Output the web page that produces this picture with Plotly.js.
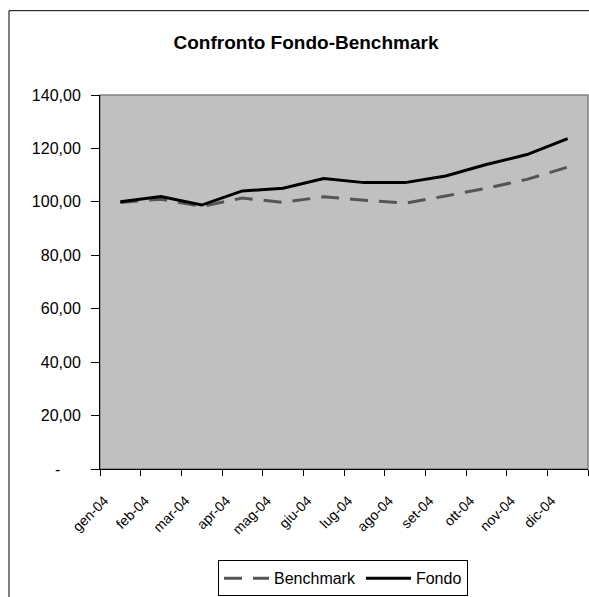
<!DOCTYPE html>
<html>
<head>
<meta charset="utf-8">
<script src="https://cdn.plot.ly/plotly-3.0.1.min.js"></script>
<style>html,body{margin:0;padding:0;background:#fff;}#chart{width:589px;height:597px;}</style>
</head>
<body>
<div id="chart"></div>
<script>
const months = ["gen-04","feb-04","mar-04","apr-04","mag-04","giu-04","lug-04","ago-04","set-04","ott-04","nov-04","dic-04"];
const benchmark = [99.8, 101.0, 98.3, 101.4, 99.8, 101.9, 100.6, 99.5, 102.2, 105.1, 108.4, 113.0];
const fondo = [100.0, 102.0, 98.8, 104.1, 105.1, 108.7, 107.2, 107.2, 109.7, 114.0, 117.7, 123.7];
const yTickVals = [0, 20, 40, 60, 80, 100, 120, 140];
const yTickText = ["-\u2002\u2002\u00a0", "20,00", "40,00", "60,00", "80,00", "100,00", "120,00", "140,00"];

const FONT = "Liberation Sans, Arial, sans-serif";

const traces = [
  {x: months, y: benchmark, name: "Benchmark", type: "scatter", mode: "lines",
   line: {color: "#555555", width: 3, dash: "18px,11px"}},
  {x: months, y: fondo, name: "Fondo", type: "scatter", mode: "lines",
   line: {color: "#000000", width: 3}}
];

const layout = {
  width: 589, height: 597,
  margin: {l: 100, r: 1, t: 95, b: 125, pad: 0},
  paper_bgcolor: "#ffffff",
  plot_bgcolor: "#c0c0c0",
  font: {family: FONT, size: 16, color: "#000"},
  title: {text: "<b>Confronto Fondo-Benchmark</b>", font: {family: FONT, size: 19, color: "#000"},
          xref: "container", x: 306/589, xanchor: "center", yref: "container", y: 1 - 42/597, yanchor: "middle"},
  xaxis: {type: "category", range: [-0.5, months.length - 0.5], tickangle: -45, ticks: "outside",
          tickson: "boundaries", ticklen: 6, tickcolor: "#000", showline: true, linecolor: "#000",
          linewidth: 1, showgrid: false, zeroline: false, tickfont: {family: FONT, size: 14},
          ticklabelstandoff: 17, ticklabelshift: -16, fixedrange: true},
  yaxis: {range: [0, 140], tickvals: yTickVals, ticktext: yTickText, ticks: "outside", ticklen: 8,
          tickcolor: "#000", showline: true, linecolor: "#000", linewidth: 1, showgrid: false,
          zeroline: false, tickfont: {family: FONT, size: 16}, ticklabelstandoff: 7, fixedrange: true},
  showlegend: true,
  legend: {orientation: "h", x: 0.498, xanchor: "center", y: -0.244, yanchor: "top",
           bordercolor: "#000", borderwidth: 1, bgcolor: "#fff", font: {family: FONT, size: 16},
           traceorder: "normal", itemwidth: 45},
  shapes: [
    {type: "rect", xref: "paper", yref: "paper", x0: 0, x1: 1, y0: 0, y1: 1,
     line: {color: "#808080", width: 1.5}, layer: "below"},
    {type: "rect", xref: "paper", yref: "paper", x0: (9-100)/488, x1: 1.2, y0: (472-10)/377, y1: -0.5,
     line: {color: "#000", width: 1}, layer: "below"}
  ]
};

Plotly.newPlot("chart", traces, layout, {displayModeBar: false, staticPlot: true});
</script>
</body>
</html>
